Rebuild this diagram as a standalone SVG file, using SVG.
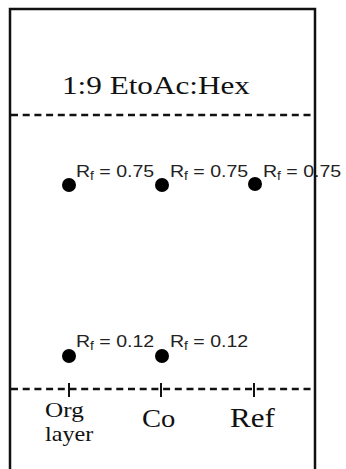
<svg xmlns="http://www.w3.org/2000/svg" width="346" height="469" viewBox="0 0 346 469">
  <style>
    .frame { fill: none; stroke: #111; stroke-width: 2.5; }
    .dash { fill: none; stroke: #111; stroke-width: 2.5; stroke-dasharray: 7 4.7; }
    .tick { stroke: #111; stroke-width: 2; }
    .spot { fill: #000; }
    .serif { font-family: "Liberation Serif", "Times New Roman", serif; fill: #111; }
    .rf { font-family: "Liberation Sans", Arial, sans-serif; font-size: 17px; fill: #222; }
    .sub { font-size: 12px; }
  </style>
  <rect width="346" height="469" fill="#fff"/>

  <g id="title">
    <text class="serif" font-size="26" transform="translate(62 94) scale(1.2 1)">1:9 EtoAc:Hex</text>
  </g>

  <g id="connectors">
    <line id="solvent-front" class="dash" x1="11" y1="115" x2="314" y2="115"/>
    <line id="baseline" class="dash" x1="11" y1="389" x2="314" y2="389"/>
    <line class="tick" x1="69" y1="383" x2="69" y2="397"/>
    <line class="tick" x1="161" y1="383" x2="161" y2="397"/>
    <line class="tick" x1="254" y1="383" x2="254" y2="397"/>
  </g>

  <g id="spot-org-top">
    <circle class="spot" cx="69" cy="185" r="7"/>
    <text class="rf" transform="translate(76 177) scale(1.15 1)"><tspan>R</tspan><tspan class="sub" dy="3">f</tspan><tspan dy="-3"> = 0.75</tspan></text>
  </g>
  <g id="spot-co-top">
    <circle class="spot" cx="162" cy="185" r="7"/>
    <text class="rf" transform="translate(170 177) scale(1.15 1)"><tspan>R</tspan><tspan class="sub" dy="3">f</tspan><tspan dy="-3"> = 0.75</tspan></text>
  </g>
  <g id="spot-ref-top">
    <circle class="spot" cx="255" cy="184" r="7"/>
    <text class="rf" transform="translate(263 177) scale(1.15 1)"><tspan>R</tspan><tspan class="sub" dy="3">f</tspan><tspan dy="-3"> = 0.75</tspan></text>
  </g>
  <g id="spot-org-bottom">
    <circle class="spot" cx="69" cy="356" r="7"/>
    <text class="rf" transform="translate(76 347) scale(1.15 1)"><tspan>R</tspan><tspan class="sub" dy="3">f</tspan><tspan dy="-3"> = 0.12</tspan></text>
  </g>
  <g id="spot-co-bottom">
    <circle class="spot" cx="162" cy="356" r="7"/>
    <text class="rf" transform="translate(170 347) scale(1.15 1)"><tspan>R</tspan><tspan class="sub" dy="3">f</tspan><tspan dy="-3"> = 0.12</tspan></text>
  </g>

  <g id="plate">
    <path class="frame" d="M10 475 V9 H315 V475"/>
  </g>

  <g id="lane-org">
    <text class="serif" font-size="21" transform="translate(45 417) scale(1.2 1)">Org</text>
    <text class="serif" font-size="21" transform="translate(45 441) scale(1.15 1)">layer</text>
  </g>
  <g id="lane-co">
    <text class="serif" font-size="26" transform="translate(142 427) scale(1.1 1)">Co</text>
  </g>
  <g id="lane-ref">
    <text class="serif" font-size="27" transform="translate(230 427) scale(1.15 1)">Ref</text>
  </g>
</svg>
